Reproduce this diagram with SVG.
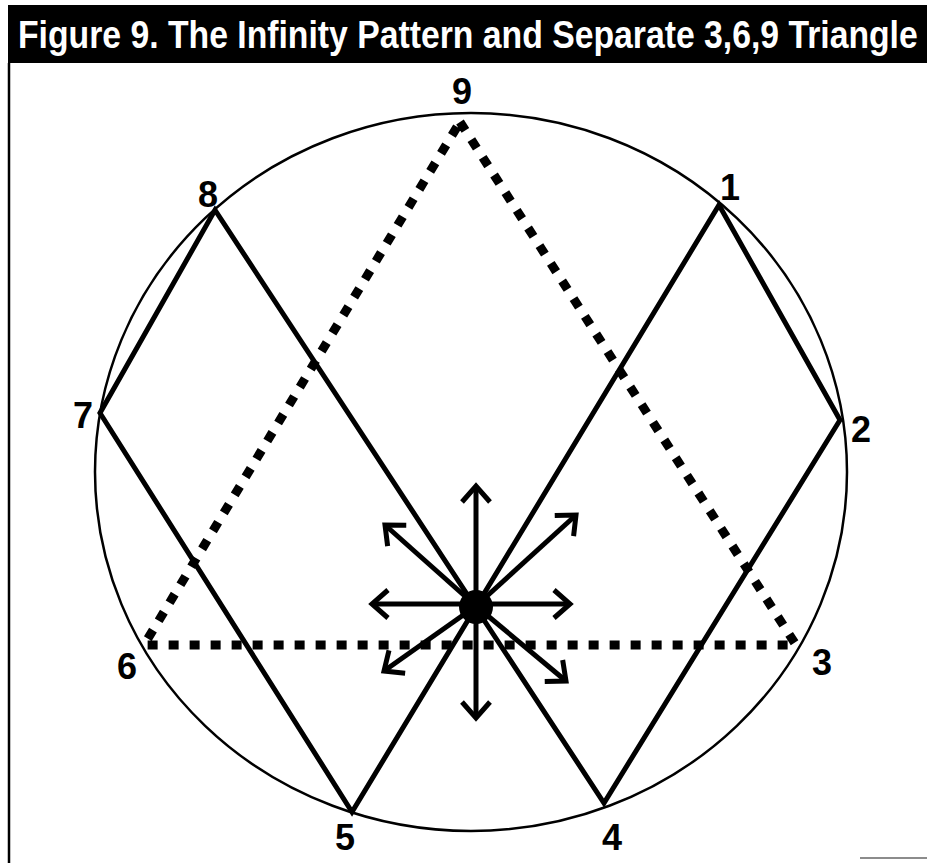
<svg xmlns="http://www.w3.org/2000/svg" width="927" height="863" viewBox="0 0 927 863">
<style>
.lbl{font-family:"Liberation Sans",Arial,sans-serif;font-weight:bold;font-size:36px;fill:#000;text-anchor:middle}
.title{font-family:"Liberation Sans",Arial,sans-serif;font-weight:bold;font-size:38px;fill:#fff}
.solid{stroke:#000;stroke-width:5;fill:none;stroke-linecap:round;stroke-linejoin:miter}
.dot{stroke:#000;stroke-width:9;fill:none;stroke-dasharray:10 11;stroke-linecap:butt}
.arr{stroke:#000;stroke-width:5;fill:none;marker-end:url(#chev)}
</style>
<defs>
<marker id="chev" markerUnits="userSpaceOnUse" viewBox="-30 -20 40 40" markerWidth="40" markerHeight="40" refX="0" refY="0" orient="auto">
<path d="M -16 -14 L 0 0 L -16 14" fill="none" stroke="#000" stroke-width="5" stroke-linejoin="miter"/>
</marker>
</defs>
<rect x="0" y="0" width="927" height="863" fill="#fff"/>
<g id="title">
<rect x="8" y="5" width="919" height="58" fill="#000"/>
<text class="title" transform="translate(18,48) scale(0.888,1)" x="0" y="0">Figure 9. The Infinity Pattern and Separate 3,6,9 Triangle</text>
</g>
<g id="frame" stroke="#000" fill="none">
<line x1="9" y1="63" x2="9" y2="863" stroke-width="2.5"/>
<line x1="860" y1="858" x2="927" y2="858" stroke-width="1.5" stroke="#666"/>
</g>
<g id="circle">
<ellipse cx="471" cy="472" rx="376" ry="359" fill="none" stroke="#000" stroke-width="2.5"/>
</g>
<g id="connectors">
<g id="triangle">
<polyline class="dot" points="460,122 796,645 144,645 460,122"/>
</g>
<g id="infinity">
<polygon class="solid" points="719,205 840,420 604,803 215,210 100,413 352,812"/>
</g>
<g id="arrows">
<line class="arr" x1="476" y1="606" x2="476" y2="486"/>
<line class="arr" x1="476" y1="606" x2="476" y2="718"/>
<line class="arr" x1="476" y1="604" x2="372" y2="604"/>
<line class="arr" x1="476" y1="604" x2="570" y2="604"/>
<line class="arr" x1="476" y1="606" x2="385" y2="525"/>
<line class="arr" x1="476" y1="606" x2="576" y2="515"/>
<line class="arr" x1="476" y1="606" x2="384" y2="671"/>
<line class="arr" x1="476" y1="606" x2="566" y2="681"/>
</g>
</g>
<g id="center">
<circle cx="476" cy="607" r="17" fill="#000"/>
</g>
<g id="node-9"><text class="lbl" x="462" y="104">9</text></g>
<g id="node-1"><text class="lbl" x="730" y="200">1</text></g>
<g id="node-2"><text class="lbl" x="861" y="442">2</text></g>
<g id="node-3"><text class="lbl" x="822" y="675">3</text></g>
<g id="node-4"><text class="lbl" x="612" y="850">4</text></g>
<g id="node-5"><text class="lbl" x="345" y="850">5</text></g>
<g id="node-6"><text class="lbl" x="127" y="679">6</text></g>
<g id="node-7"><text class="lbl" x="83" y="428">7</text></g>
<g id="node-8"><text class="lbl" x="208" y="207">8</text></g>
</svg>
